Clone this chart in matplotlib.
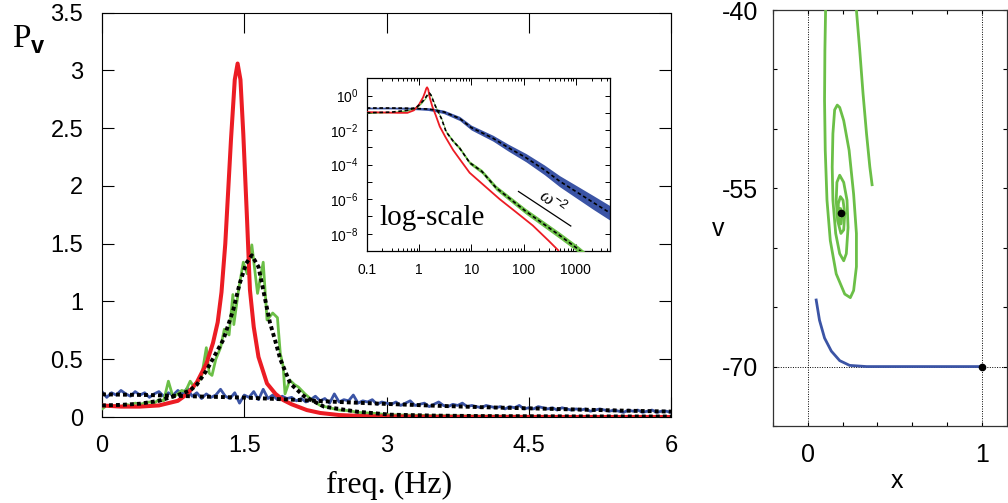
import matplotlib
matplotlib.use('Agg')
import matplotlib.pyplot as plt
import numpy as np
from matplotlib.ticker import FixedLocator, MultipleLocator, NullFormatter, LogLocator

plt.rcParams['font.family'] = ['Liberation Sans', 'DejaVu Sans']
plt.rcParams['mathtext.fontset'] = 'custom'
plt.rcParams['mathtext.rm'] = 'Liberation Sans'
plt.rcParams['mathtext.it'] = 'Liberation Serif:italic'
plt.rcParams['mathtext.bf'] = 'Liberation Sans:bold'

RED = '#ec1c24'
GREEN = '#6bbf47'
BLUE = '#3b54a5'

# ---------------- main panel data (linear spectrum) ----------------
red_f = [0, 0.2, 0.4, 0.6, 0.8, 0.9, 1.0, 1.1, 1.17, 1.22, 1.26, 1.3, 1.36, 1.4, 1.43, 1.46, 1.49,
         1.53, 1.56, 1.6, 1.65, 1.74, 1.83, 1.91, 2.0, 2.16, 2.3, 2.5, 2.75, 3.0, 3.5, 4.0, 5.0, 6.0]
red_p = [0.10, 0.09, 0.09, 0.10, 0.14, 0.20, 0.30, 0.46, 0.64, 0.82, 1.08, 1.50, 2.40, 2.92, 3.06, 2.92, 2.45,
         1.70, 1.10, 0.78, 0.52, 0.29, 0.20, 0.147, 0.11, 0.06, 0.035, 0.017, 0.008, 0.005, 0.002, 0.001, 0.0005, 0.0002]

green_f = [0.0, 0.05, 0.1, 0.15, 0.2, 0.25, 0.3, 0.35, 0.4, 0.45, 0.5, 0.55, 0.6, 0.65, 0.7, 0.75, 0.8, 0.84,
           0.88, 0.93, 0.97, 1.0, 1.05, 1.1, 1.13, 1.16, 1.2, 1.25, 1.29, 1.34, 1.38, 1.39, 1.44, 1.49, 1.53,
           1.58, 1.64, 1.7, 1.74, 1.8, 1.85, 1.88, 1.91, 1.93, 1.98, 2.03, 2.07, 2.14, 2.21, 2.3, 2.4, 2.5,
           2.6, 2.7, 2.8, 2.9, 3.0, 3.5, 4.0, 4.5, 5.0, 5.5, 6.0]
green_p = [0.07, 0.10, 0.09, 0.10, 0.09, 0.11, 0.10, 0.12, 0.11, 0.12, 0.13, 0.12, 0.15, 0.14, 0.31, 0.17,
           0.20, 0.23, 0.22, 0.31, 0.26, 0.29, 0.35, 0.60, 0.38, 0.36, 0.50, 0.60, 0.76, 0.71, 1.06, 0.80,
           1.10, 1.34, 1.24, 1.49, 1.07, 1.34, 0.84, 0.90, 0.86, 0.55, 0.44, 0.20, 0.32, 0.28, 0.26, 0.20,
           0.15, 0.10, 0.08, 0.06, 0.055, 0.04, 0.035, 0.03, 0.02, 0.012, 0.008, 0.006, 0.005, 0.004, 0.004]

green_fit_f = [0, 0.2, 0.4, 0.6, 0.8, 0.93, 1.0, 1.1, 1.2, 1.28, 1.385, 1.45, 1.52, 1.58, 1.65, 1.72, 1.77,
               1.83, 1.88, 1.985, 2.13, 2.34, 2.69, 3.04, 3.5, 4.0, 5.0, 6.0]
green_fit_p = [0.10, 0.105, 0.115, 0.14, 0.19, 0.23, 0.28, 0.40, 0.55, 0.67, 0.93, 1.15, 1.33, 1.40, 1.30,
               1.02, 0.82, 0.65, 0.50, 0.29, 0.18, 0.09, 0.046, 0.02, 0.012, 0.008, 0.005, 0.004]

blue_f = list(np.linspace(0, 6, 121))
blue_p = [0.22, 0.17, 0.21, 0.19, 0.23, 0.20, 0.18, 0.22, 0.19, 0.21, 0.17, 0.20, 0.22, 0.18, 0.21, 0.19, 0.23, 0.20, 0.25, 0.18,
          0.21, 0.16, 0.20, 0.17, 0.19, 0.24, 0.18, 0.16, 0.21, 0.12, 0.19, 0.17, 0.22, 0.15, 0.24, 0.16, 0.19, 0.15, 0.18, 0.16,
          0.17, 0.14, 0.16, 0.13, 0.15, 0.18, 0.14, 0.16, 0.12, 0.20, 0.13, 0.15, 0.14, 0.19, 0.12, 0.14, 0.13, 0.15, 0.11, 0.13,
          0.12, 0.11, 0.13, 0.10, 0.12, 0.14, 0.10, 0.11, 0.12, 0.09, 0.11, 0.13, 0.10, 0.09, 0.11, 0.10, 0.12, 0.09, 0.10, 0.09,
          0.08, 0.10, 0.09, 0.08, 0.09, 0.07, 0.09, 0.08, 0.10, 0.07, 0.08, 0.07, 0.09, 0.08, 0.07, 0.08, 0.06, 0.08, 0.07, 0.06,
          0.07, 0.06, 0.07, 0.05, 0.06, 0.07, 0.06, 0.05, 0.06, 0.05, 0.04, 0.06, 0.05, 0.06, 0.04, 0.05, 0.06, 0.04, 0.05, 0.05, 0.04]

blue_fit_f = [0, 0.5, 1.0, 1.5, 2.0, 2.5, 3.0, 3.5, 4.0, 4.5, 5.0, 5.5, 6.0]
blue_fit_p = [0.196, 0.19, 0.178, 0.168, 0.15, 0.13, 0.113, 0.098, 0.085, 0.075, 0.065, 0.055, 0.047]

main_xticks = [0, 1.5, 3, 4.5, 6]
main_xticklabels = ['0', '1.5', '3', '4.5', '6']
main_yticks = [0, 0.5, 1, 1.5, 2, 2.5, 3, 3.5]
main_yticklabels = ['0', '0.5', '1', '1.5', '2', '2.5', '3', '3.5']

# ---------------- inset data (log-log spectrum) ----------------
in_red_f = [0.1, 0.2, 0.4, 0.6, 0.8, 1.0, 1.2, 1.3, 1.38, 1.43, 1.5, 1.6, 1.8, 2.1, 2.5, 3.2, 4.5, 6.5, 9.3,
            15, 35, 70, 150, 300, 460]
in_red_p = [0.11, 0.105, 0.10, 0.10, 0.14, 0.3, 0.8, 1.5, 2.6, 3.0, 2.3, 0.8, 0.23, 0.07, 0.016, 4e-3, 7e-4,
            1.5e-4, 3.4e-5, 9.5e-6, 1.0e-6, 1.9e-7, 3e-8, 4e-9, 1.1e-9]

in_green_f = [0.1, 0.3, 0.6, 0.9, 1.1, 1.3, 1.45, 1.58, 1.7, 1.85, 2.0, 2.3, 2.7, 3.3, 4.5, 6.0, 9.3, 16,
              30, 110, 490, 1100, 2000]
in_green_p = [0.10, 0.11, 0.14, 0.21, 0.37, 0.67, 1.1, 1.4, 1.05, 0.55, 0.3, 0.12, 0.045, 8e-3, 2.3e-3,
              9e-4, 1.3e-4, 4e-5, 4.5e-6, 2e-7, 8e-9, 1.3e-9, 3e-10]
in_green_band = [0.03, 0.03, 0.04, 0.05, 0.05, 0.05, 0.05, 0.05, 0.05, 0.05, 0.05, 0.06, 0.06, 0.07, 0.08,
                 0.09, 0.10, 0.12, 0.14, 0.16, 0.18, 0.18, 0.18]

in_blue_f = [0.1, 0.3, 0.6, 1.0, 1.5, 2.0, 3.0, 6.0, 10, 26, 50, 112, 250, 490, 1000, 2140, 4500]
in_blue_p = [0.19, 0.19, 0.185, 0.175, 0.165, 0.145, 0.113, 0.047, 0.014, 3.4e-3, 1e-3, 2.5e-4, 5e-5,
             1.1e-5, 2.8e-6, 6.5e-7, 1.6e-7]
in_blue_band = [0.05, 0.05, 0.06, 0.07, 0.08, 0.09, 0.10, 0.12, 0.14, 0.17, 0.2, 0.24, 0.28, 0.32, 0.36, 0.40, 0.42]

omega_f = [80, 800]
omega_p = [2.8e-6, 2.8e-8]

in_xticks = [0.1, 1, 10, 100, 1000]
in_xticklabels = ['0.1', '1', '10', '100', '1000']
in_yticks = [1e0, 1e-2, 1e-4, 1e-6, 1e-8]
in_yticklabels = [r'$\mathregular{10^{0}}$', r'$\mathregular{10^{-2}}$', r'$\mathregular{10^{-4}}$',
                  r'$\mathregular{10^{-6}}$', r'$\mathregular{10^{-8}}$']
in_yminor = [1e1, 1e-1, 1e-3, 1e-5, 1e-7, 1e-9]

# ---------------- right panel data (phase plane) ----------------
spiral_x = [0.369, 0.356, 0.337, 0.317, 0.298, 0.279]
spiral_v = [-54.7, -53.2, -50.4, -47.03, -43.37, -40.0]
spiral2_x = [0.102, 0.098, 0.096, 0.100, 0.110, 0.129, 0.163, 0.212, 0.244, 0.263, 0.279, 0.279, 0.263,
             0.237, 0.206, 0.183, 0.169, 0.154, 0.144, 0.140, 0.144, 0.160, 0.183, 0.206, 0.221, 0.231,
             0.225, 0.206, 0.183, 0.167, 0.163, 0.171, 0.190, 0.206, 0.212, 0.202, 0.187, 0.175, 0.175,
             0.190, 0.198, 0.188, 0.183, 0.188]
spiral2_v = [-40.0, -43.4, -47.6, -51.8, -56.0, -59.4, -62.2, -63.9, -64.2, -63.6, -61.6, -58.8, -55.5,
             -51.8, -49.3, -48.2, -48.0, -48.4, -50.4, -53.2, -56.0, -58.8, -60.5, -61.1, -60.5, -58.3,
             -56.0, -54.5, -53.9, -54.5, -56.0, -57.7, -58.8, -58.5, -57.1, -56.0, -55.7, -56.3, -57.4,
             -58.0, -57.1, -56.7, -57.1, -57.1]
blue_traj_x = [0.048, 0.067, 0.096, 0.135, 0.183, 0.240, 0.337, 1.0]
blue_traj_v = [-64.4, -66.1, -67.6, -68.7, -69.5, -69.9, -70.0, -70.0]
fixed_x = [0.188, 1.0]
fixed_v = [-57.1, -70.0]

# ---------------- figure ----------------
W, H = 1008, 503
fig = plt.figure(figsize=(W / 100, H / 100), dpi=100)


def fbox(l, t, r, b):
    return [l / W, 1 - b / H, (r - l) / W, (b - t) / H]


# main panel
ax = fig.add_axes(fbox(102, 12.7, 671, 417))
ax.plot(blue_f, blue_p, color=BLUE, lw=2.0, zorder=2)
ax.plot(green_f, green_p, color=GREEN, lw=2.0, zorder=3)
ax.plot(red_f, red_p, color=RED, lw=2.9, zorder=4, solid_capstyle='round')
ax.plot(green_fit_f, green_fit_p, color='black', lw=2.8, dashes=(1, 0.8), zorder=5)
ax.plot(blue_fit_f, blue_fit_p, color='black', lw=2.8, dashes=(1, 0.8), zorder=5)
ax.set_xlim(0, 6)
ax.set_ylim(0, 3.5)
ax.set_xticks(main_xticks)
ax.set_xticklabels(main_xticklabels)
ax.set_yticks(main_yticks)
ax.set_yticklabels(main_yticklabels)
ax.tick_params(direction='in', top=True, right=True, labelsize=17, width=0.8)
ax.tick_params(axis='x', length=14.5, pad=13)
ax.tick_params(axis='y', length=8.6, pad=13.5)
for s in ax.spines.values():
    s.set_linewidth(0.8)

fig.text(12 / W, 1 - 47 / H, 'P', family='Liberation Serif', fontsize=24, va='baseline', ha='left')
fig.text(31 / W, 1 - 53 / H, 'v', weight='bold', fontsize=17, va='baseline', ha='left')
fig.text(389 / W, 1 - 485 / H, 'freq. (Hz)', family='Liberation Serif', fontsize=23, ha='center', va='center')

# inset
axi = fig.add_axes(fbox(366.7, 78.3, 610, 251))
axi.set_xscale('log')
axi.set_yscale('log')
axi.fill_between(in_blue_f, np.array(in_blue_p) / 10 ** np.array(in_blue_band),
                 np.array(in_blue_p) * 10 ** np.array(in_blue_band), color=BLUE, lw=0, zorder=2)
axi.fill_between(in_green_f, np.array(in_green_p) / 10 ** np.array(in_green_band),
                 np.array(in_green_p) * 10 ** np.array(in_green_band), color=GREEN, lw=0, zorder=3)
axi.plot(in_red_f, in_red_p, color=RED, lw=1.3, zorder=4)
axi.plot(in_green_f, in_green_p, color='black', lw=1.2, dashes=(2.2, 1.6), zorder=5)
axi.plot(in_blue_f, in_blue_p, color='black', lw=1.2, dashes=(2.2, 1.6), zorder=5)
axi.plot(omega_f, omega_p, color='black', lw=0.9, zorder=5)
axi.text(360, 6.8e-7, r'$\omega^{-2}$', fontsize=13, rotation=-36, ha='center', va='center')
axi.set_xlim(0.1, 4500)
axi.set_ylim(1e-9, 10)
axi.set_xticks(in_xticks)
axi.set_xticklabels(in_xticklabels)
axi.xaxis.set_minor_locator(LogLocator(base=10, subs=(2, 3, 4, 5, 6, 7, 8, 9), numticks=30))
axi.xaxis.set_minor_formatter(NullFormatter())
axi.set_yticks(in_yticks)
axi.set_yticklabels(in_yticklabels)
axi.yaxis.set_minor_locator(FixedLocator(in_yminor))
axi.yaxis.set_minor_formatter(NullFormatter())
axi.tick_params(which='both', direction='in', top=True, right=True, labelsize=10, width=0.7)
axi.tick_params(axis='x', which='major', length=5, pad=9)
axi.tick_params(axis='x', which='minor', length=2.5)
axi.tick_params(axis='y', which='both', length=3.5, pad=6)
for s in axi.spines.values():
    s.set_linewidth(0.9)
fig.text(431.7 / W, 1 - 218 / H, 'log-scale', family='Liberation Serif', fontsize=21, ha='center', va='center')

# right panel
ax3 = fig.add_axes(fbox(773, 10, 1006.7, 426))
ax3.axvline(0, color='black', lw=0.7, ls=(0, (1, 1.5)), zorder=1)
ax3.axvline(1, color='black', lw=0.7, ls=(0, (1, 1.5)), zorder=1)
ax3.axhline(-70, color='black', lw=0.7, ls=(0, (1, 1.5)), zorder=1)
ax3.plot(spiral_x, spiral_v, color=GREEN, lw=2.0, zorder=3)
ax3.plot(spiral2_x, spiral2_v, color=GREEN, lw=2.0, zorder=3)
ax3.plot(blue_traj_x, blue_traj_v, color=BLUE, lw=2.0, zorder=3)
ax3.plot(fixed_x, fixed_v, 'o', color='black', ms=4.5, zorder=4)
ax3.set_xlim(-0.2, 1.142)
ax3.set_ylim(-75, -40)
ax3.xaxis.set_major_locator(FixedLocator([0, 1]))
ax3.set_xticklabels(['0', '1'])
ax3.xaxis.set_minor_locator(MultipleLocator(0.2))
ax3.yaxis.set_major_locator(FixedLocator([-70, -55, -40]))
ax3.set_yticklabels(['-70', '-55', '-40'])
ax3.yaxis.set_minor_locator(MultipleLocator(5))
ax3.tick_params(which='both', direction='in', top=True, right=True, length=3.2, width=0.8, labelsize=18)
ax3.tick_params(axis='x', pad=12)
ax3.tick_params(axis='y', pad=10.5)
for s in ax3.spines.values():
    s.set_linewidth(0.9)
    s.set_color('#333333')
fig.text(718 / W, 1 - 229 / H, 'v', fontsize=18, ha='center', va='center')
fig.text(896.5 / W, 1 - 481 / H, 'x', fontsize=18, ha='center', va='center')

fig.savefig('out.png', dpi=100)
